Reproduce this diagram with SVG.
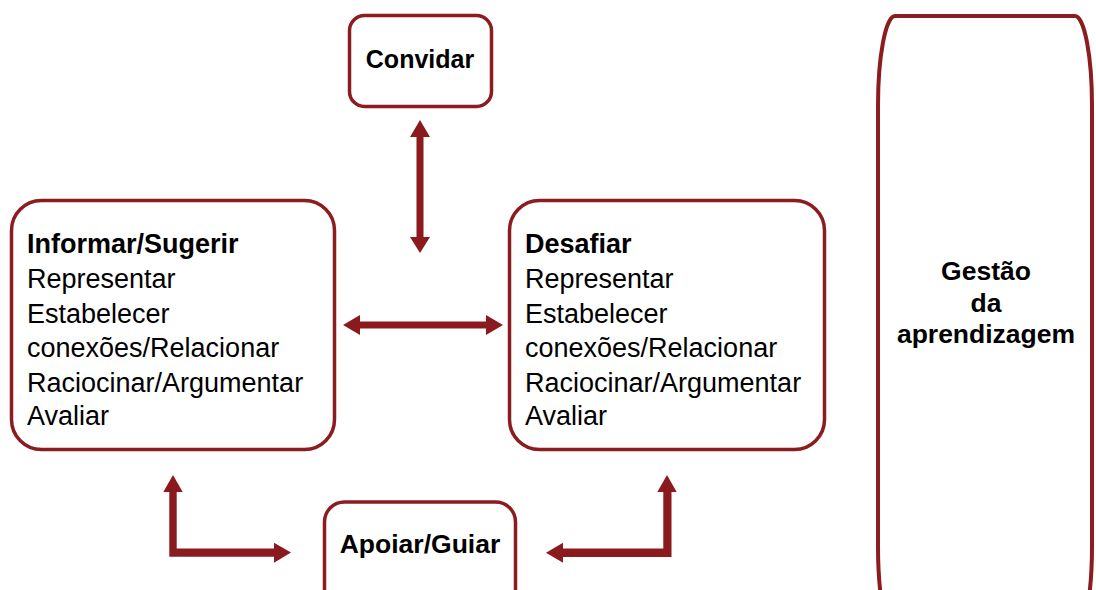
<svg xmlns="http://www.w3.org/2000/svg" width="1096" height="590" viewBox="0 0 1096 590">
<style>
.box{fill:#fff;stroke:#8B1C1F;stroke-width:3.5}
.arrow{fill:#8B1A1E;stroke:none}
.t{font-family:"Liberation Sans",Arial,sans-serif;font-size:27px;fill:#000}
.b{font-weight:bold}
.c{text-anchor:middle}
</style>
<rect width="1096" height="590" fill="#fff"/>
<g id="connectors">
<polygon class="arrow" points="420,120 430,137 423.5,137 423.5,237 430,237 420,253 410,237 416.5,237 416.5,137 410,137"/>
<polygon class="arrow" points="343,325 360,315 360,321.5 486,321.5 486,315 503,325 486,335 486,328.5 360,328.5 360,335"/>
<polygon class="arrow" points="173,475 182.7,492 176.7,492 176.7,548.5 274,548.5 274,542.7 291,552.5 274,562.7 274,556.7 169.3,556.7 169.3,492 163.3,492"/>
<polygon class="arrow" points="667,475 676.7,492 671.5,492 671.5,557 563,557 563,562.7 546,552.7 563,542.7 563,548.5 663.3,548.5 663.3,492 657.3,492"/>
</g>
<g id="convidar">
<rect class="box" x="349.5" y="15.5" width="142" height="91" rx="15"/>
<text class="t b c" x="420" y="68" style="font-size:25px">Convidar</text>
</g>
<g id="informar">
<rect class="box" x="11.5" y="200.5" width="323" height="249" rx="30"/>
<text class="t" x="27" y="253"><tspan class="b">Informar/Sugerir</tspan><tspan x="27" y="288">Representar</tspan><tspan x="27" y="322.5">Estabelecer</tspan><tspan x="27" y="357">conexões/Relacionar</tspan><tspan x="27" y="391.5">Raciocinar/Argumentar</tspan><tspan x="27" y="425">Avaliar</tspan></text>
</g>
<g id="desafiar">
<rect class="box" x="509.5" y="200.5" width="315" height="249" rx="30"/>
<text class="t" x="525" y="253"><tspan class="b">Desafiar</tspan><tspan x="525" y="288">Representar</tspan><tspan x="525" y="322.5">Estabelecer</tspan><tspan x="525" y="357">conexões/Relacionar</tspan><tspan x="525" y="391.5">Raciocinar/Argumentar</tspan><tspan x="525" y="425">Avaliar</tspan></text>
</g>
<g id="apoiar">
<rect class="box" x="324.5" y="502" width="191" height="120" rx="20"/>
<text class="t b c" x="420" y="553" style="font-size:26.5px">Apoiar/Guiar</text>
</g>
<g id="gestao">
<rect class="box" x="878" y="16" width="214" height="620" rx="17" ry="90" style="stroke-width:4"/>
<text class="t b c" x="986" y="280" style="font-size:26.5px">Gestão</text>
<text class="t b c" x="986" y="311.5" style="font-size:26.5px">da</text>
<text class="t b c" x="986" y="343" style="font-size:26.5px">aprendizagem</text>
</g>
</svg>
